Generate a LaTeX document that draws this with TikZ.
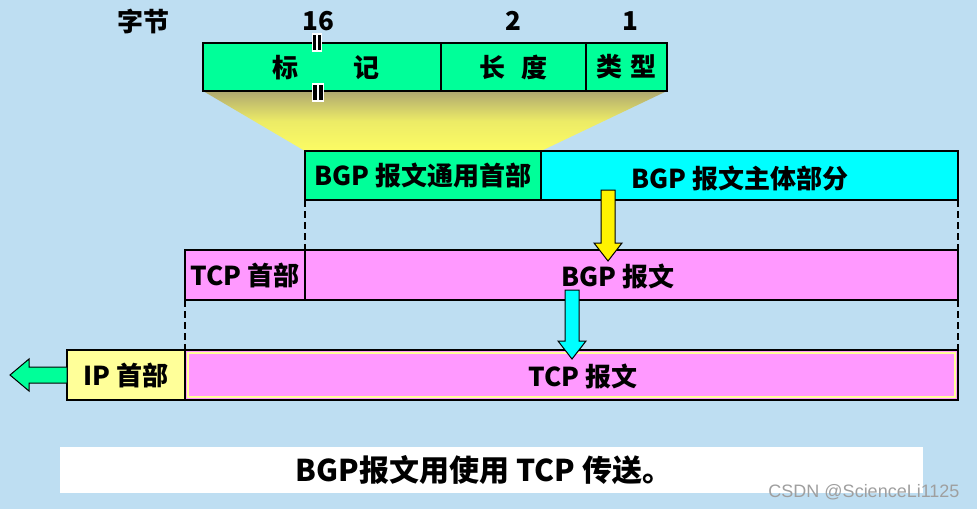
\documentclass[tikz,border=0pt]{standalone}
\usepackage{fontspec}
\setmainfont{Noto Sans CJK SC}
\setsansfont{Liberation Sans}
\definecolor{bgblue}{RGB}{190,222,242}
\definecolor{gr}{RGB}{0,255,153}
\definecolor{cy}{RGB}{0,255,255}
\definecolor{mg}{RGB}{255,153,255}
\definecolor{ly}{RGB}{255,255,153}
\definecolor{olive}{RGB}{174,168,112}
\definecolor{yel}{RGB}{252,252,100}
\begin{document}
\begin{tikzpicture}[x=1pt,y=-1pt,
  lbl/.style={font=\bfseries\fontsize{26}{26}\selectfont, inner sep=0pt},
  box/.style={draw=black, line width=1.8pt, inner sep=0pt, outer sep=0pt, anchor=north west, font=\bfseries\fontsize{26}{26}\selectfont},
  dashline/.style={line width=1.3pt, dash pattern=on 7pt off 4pt},
  blockarrow/.style={draw=black, line width=1pt, line join=miter},
  brk/.style={line width=3.2pt}]
\fill[bgblue] (0,0) rectangle (977,509);
\useasboundingbox (0,0) rectangle (977,509);

% header labels
\node[lbl] (bytes) at (143,21) {字节};
\node[lbl] (n16) at (318,21) {16};
\node[lbl] (n2) at (513,21) {2};
\node[lbl] (n1) at (630,21) {1};

% gradient trapezoid
\shade[top color=olive, bottom color=yel, middle color=yel!80!olive] (203,91) -- (667,91) -- (541,151) -- (305,151) -- cycle;

% top field box
\node[box, fill=gr, minimum width=238pt, minimum height=48pt] (mark) at (203,43) {};
\node[box, fill=gr, minimum width=145pt, minimum height=48pt] (len) at (441,43) {长\hspace{0.6em}度};
\node[box, fill=gr, minimum width=81pt, minimum height=48pt] (type) at (586,43) {类\hspace{0.3em}型};
\node[lbl] (marktxt) at (326,68) {标\hspace{2.1em}记};

% break marks
\fill[white] (312,33) rectangle (322,52);
\draw[brk] (314.6,35) -- (314.6,50);
\draw[brk] (319.6,35) -- (319.6,50);
\fill[white] (312,83) rectangle (324,102);
\draw[brk] (315,85) -- (315,100);
\draw[brk] (321,85) -- (321,100);

% BGP message row
\node[box, fill=gr, minimum width=236pt, minimum height=49pt] (hdr) at (305,151) {BGP 报文通用首部};
\node[box, fill=cy, minimum width=417pt, minimum height=49pt] (body) at (541,151) {};
\node[lbl] (bodytxt) at (740,179) {BGP 报文主体部分};

% TCP segment row
\node[box, fill=mg, minimum width=120pt, minimum height=50pt] (tcph) at (185,250) {TCP 首部};
\node[box, fill=mg, minimum width=653pt, minimum height=50pt] (bgpmsg) at (305,250) {};
\node[lbl] (bgpmsgtxt) at (618,277) {BGP 报文};

% IP datagram row
\node[box, fill=ly, minimum width=118pt, minimum height=50pt] (iph) at (67,350) {IP 首部};
\node[box, fill=mg, minimum width=773pt, minimum height=50pt] (tcpmsg) at (185,350) {};
\draw[ly, line width=1.5pt] ([xshift=3pt,yshift=-3pt]tcpmsg.north west) rectangle ([xshift=-3pt,yshift=3pt]tcpmsg.south east);
\node[lbl] (tcpmsgtxt) at (583,377) {TCP 报文};

% dashed guides
\draw[dashline] (hdr.south west) -- (bgpmsg.north west);
\draw[dashline] (body.south east) -- (bgpmsg.north east);
\draw[dashline] (tcph.south west) -- (tcpmsg.north west);
\draw[dashline] (bgpmsg.south east) -- (tcpmsg.north east);

% block arrows
\draw[blockarrow, fill=yellow] (601,190) -- (615,190) -- (615,243) -- (622,243) -- (608,261) -- (594,243) -- (601,243) -- cycle;
\draw[blockarrow, fill=cy] (565,290) -- (579,290) -- (579,341) -- (586,341) -- (572,359) -- (558,341) -- (565,341) -- cycle;
\draw[blockarrow, fill=gr] (67,367) -- (29,367) -- (29,359) -- (10,375) -- (29,391) -- (29,383) -- (67,383) -- cycle;

% caption
\node[fill=white, minimum width=863pt, minimum height=46pt, inner sep=0pt, anchor=north west] (capbox) at (60,447) {};
\node[font=\bfseries\fontsize{30}{30}\selectfont, inner sep=0pt] (caption) at (484,470) {BGP报文用使用 TCP 传送。};

% watermark
\node[font=\sffamily\fontsize{18}{18}\selectfont, text=gray!75, inner sep=0pt] (wm) at (864,492) {CSDN @ScienceLi1125};
\end{tikzpicture}
\end{document}
